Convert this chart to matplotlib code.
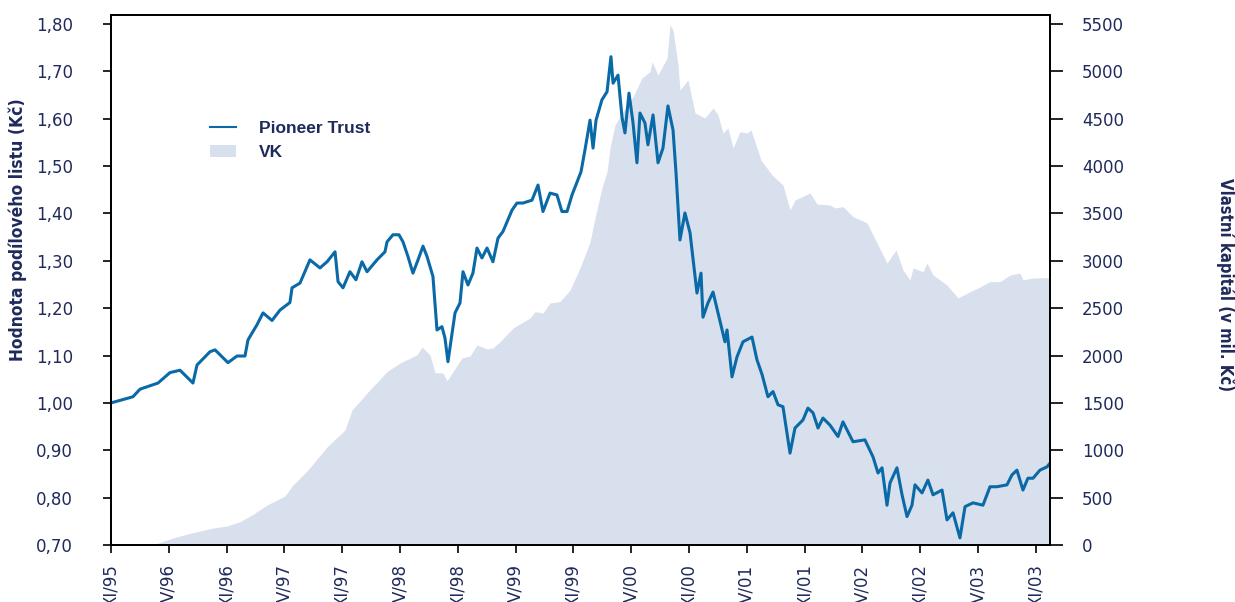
import matplotlib
matplotlib.use("Agg")
import matplotlib.pyplot as plt
from matplotlib.lines import Line2D
from matplotlib.patches import Patch

# Pioneer Trust - hodnota podilového listu (Kč), x = rok (desetinne)
pt_year = [1995.833, 1996.023, 1996.084, 1996.240, 1996.343, 1996.430, 1996.542, 1996.577,
           1996.689, 1996.733, 1996.845, 1996.923, 1996.992, 1997.018, 1997.096, 1997.148,
           1997.226, 1997.295, 1997.381, 1997.399, 1997.468, 1997.554, 1997.641, 1997.702,
           1997.771, 1997.797, 1997.840, 1997.900, 1997.952, 1998.004, 1998.048, 1998.134,
           1998.203, 1998.221, 1998.272, 1998.324, 1998.359, 1998.402, 1998.445, 1998.489,
           1998.532, 1998.567, 1998.618, 1998.653, 1998.696, 1998.722, 1998.748, 1998.809,
           1998.852, 1998.878, 1998.921, 1998.964, 1998.999, 1999.042, 1999.086, 1999.137,
           1999.181, 1999.224, 1999.302, 1999.345, 1999.397, 1999.475, 1999.527, 1999.570,
           1999.631, 1999.691, 1999.734, 1999.778, 1999.821, 1999.899, 1999.933, 1999.977,
           2000.003, 2000.029, 2000.080, 2000.124, 2000.158, 2000.176, 2000.219, 2000.253,
           2000.279, 2000.314, 2000.349, 2000.383, 2000.409, 2000.452, 2000.478, 2000.522,
           2000.565, 2000.608, 2000.651, 2000.695, 2000.721, 2000.755, 2000.798, 2000.842,
           2000.902, 2000.937, 2000.954, 2000.997, 2001.041, 2001.084, 2001.144, 2001.162,
           2001.205, 2001.248, 2001.300, 2001.378, 2001.421, 2001.465, 2001.516, 2001.560,
           2001.603, 2001.646, 2001.707, 2001.750, 2001.819, 2001.862, 2001.906, 2001.949,
           2001.992, 2002.053, 2002.122, 2002.165, 2002.252, 2002.355, 2002.425, 2002.468,
           2002.503, 2002.546, 2002.572, 2002.632, 2002.676, 2002.719, 2002.762, 2002.788,
           2002.849, 2002.900, 2002.944, 2003.022, 2003.065, 2003.117, 2003.177, 2003.221,
           2003.290, 2003.376, 2003.437, 2003.497, 2003.584, 2003.627, 2003.670, 2003.722,
           2003.765, 2003.809, 2003.869, 2003.930, 2003.947]
pt_value = [1.000, 1.013, 1.029, 1.042, 1.064, 1.069, 1.042, 1.080,
            1.108, 1.112, 1.085, 1.099, 1.099, 1.133, 1.165, 1.190,
            1.174, 1.196, 1.212, 1.243, 1.253, 1.302, 1.285, 1.298,
            1.319, 1.256, 1.243, 1.277, 1.260, 1.298, 1.277, 1.302,
            1.319, 1.340, 1.355, 1.355, 1.340, 1.309, 1.274, 1.302,
            1.331, 1.309, 1.267, 1.154, 1.161, 1.137, 1.087, 1.190,
            1.211, 1.277, 1.249, 1.274, 1.327, 1.306, 1.327, 1.298,
            1.348, 1.362, 1.407, 1.422, 1.422, 1.428, 1.460, 1.404,
            1.443, 1.439, 1.404, 1.404, 1.439, 1.488, 1.534, 1.597,
            1.538, 1.597, 1.640, 1.657, 1.731, 1.675, 1.692, 1.604,
            1.570, 1.654, 1.591, 1.507, 1.612, 1.591, 1.545, 1.608,
            1.507, 1.538, 1.627, 1.576, 1.485, 1.344, 1.401, 1.359,
            1.232, 1.274, 1.181, 1.211, 1.234, 1.190, 1.129, 1.154,
            1.055, 1.097, 1.129, 1.139, 1.091, 1.060, 1.013, 1.024,
            0.996, 0.992, 0.894, 0.947, 0.964, 0.989, 0.979, 0.947,
            0.968, 0.953, 0.929, 0.960, 0.918, 0.922, 0.886, 0.852,
            0.863, 0.784, 0.831, 0.863, 0.806, 0.760, 0.784, 0.827,
            0.810, 0.837, 0.806, 0.816, 0.753, 0.768, 0.715, 0.781,
            0.789, 0.784, 0.823, 0.823, 0.827, 0.848, 0.858, 0.816,
            0.841, 0.841, 0.858, 0.865, 0.870]

# VK - vlastni kapital (v mil. Kč)
vk_year = [1996.214, 1996.240, 1996.317, 1996.430, 1996.542, 1996.715, 1996.836, 1996.949,
           1997.053, 1997.182, 1997.338, 1997.407, 1997.537, 1997.702, 1997.857, 1997.918,
           1998.048, 1998.221, 1998.333, 1998.480, 1998.523, 1998.593, 1998.636, 1998.705,
           1998.740, 1998.869, 1998.939, 1998.999, 1999.086, 1999.137, 1999.198, 1999.311,
           1999.458, 1999.501, 1999.570, 1999.631, 1999.717, 1999.804, 1999.890, 1999.951,
           1999.977, 2000.020, 2000.080, 2000.124, 2000.150, 2000.193, 2000.262, 2000.349,
           2000.426, 2000.496, 2000.513, 2000.565, 2000.643, 2000.669, 2000.695, 2000.738,
           2000.755, 2000.824, 2000.885, 2000.971, 2001.041, 2001.084, 2001.127, 2001.170,
           2001.214, 2001.274, 2001.335, 2001.369, 2001.456, 2001.551, 2001.646, 2001.707,
           2001.750, 2001.880, 2001.940, 2002.053, 2002.096, 2002.165, 2002.252, 2002.373,
           2002.468, 2002.546, 2002.624, 2002.684, 2002.745, 2002.771, 2002.857, 2002.892,
           2002.944, 2003.065, 2003.160, 2003.264, 2003.333, 2003.437, 2003.523, 2003.610,
           2003.696, 2003.722, 2003.809, 2003.956]
vk_value = [0, 20, 53, 95, 130, 179, 200, 246,
            317, 422, 517, 633, 792, 1035, 1214, 1425,
            1605, 1830, 1921, 2006, 2090, 2006, 1819, 1816,
            1734, 1974, 1995, 2111, 2069, 2080, 2146, 2291,
            2396, 2463, 2449, 2555, 2569, 2692, 2924, 3114,
            3202, 3452, 3769, 3941, 4191, 4434, 4574, 4733,
            4930, 4997, 5102, 4962, 5141, 5490, 5437, 5067,
            4803, 4909, 4561, 4508, 4613, 4540, 4349, 4402,
            4191, 4363, 4349, 4381, 4064, 3906, 3800, 3537,
            3642, 3716, 3600, 3589, 3558, 3572, 3466, 3400,
            3167, 2977, 3114, 2903, 2798, 2924, 2885, 2977,
            2850, 2745, 2608, 2674, 2713, 2780, 2780, 2850,
            2871, 2798, 2819, 2822]

tick_year = [1995.833 + 0.5 * i for i in range(17)]
tick_labels = ["XI/95", "V/96", "XI/96", "V/97", "XI/97", "V/98", "XI/98", "V/99", "XI/99",
               "V/00", "XI/00", "V/01", "XI/01", "V/02", "XI/02", "V/03", "XI/03"]
left_ticks = [0.7, 0.8, 0.9, 1.0, 1.1, 1.2, 1.3, 1.4, 1.5, 1.6, 1.7, 1.8]
right_ticks = list(range(0, 5501, 500))

navy = "#1f2a5c"
line_col = "#0a6aa8"
fill_col = "#d8dfed"

fig = plt.figure(figsize=(12.35, 6.02), dpi=100)
ax = fig.add_axes([111 / 1235, 1 - 545 / 602, 939 / 1235, 530 / 602])
ax2 = ax.twinx()

ax2.fill_between(vk_year, vk_value, 0, color=fill_col, lw=0)
ax.plot(pt_year, pt_value, color=line_col, lw=2.2)

ax.set_zorder(ax2.get_zorder() + 1)
ax.patch.set_visible(False)

ax.set_xlim(1995.833, 2003.956)
ax.set_ylim(0.70, 1.819)
ax2.set_ylim(0, 5595)

ax.set_xticks(tick_year)
ax.set_xticklabels(tick_labels, rotation=90, va="top", ha="center")
ax.set_yticks(left_ticks)
ax.set_yticklabels([f"{v:.2f}".replace(".", ",") for v in left_ticks])
ax2.set_yticks(right_ticks)
ax2.set_yticklabels([str(v) for v in right_ticks])

for a in (ax, ax2):
    for s in a.spines.values():
        s.set_color("black")
        s.set_linewidth(1.3)
ax.tick_params(axis="both", direction="out", length=6, width=1.2, colors="black",
               labelcolor=navy, labelsize=12, pad=8)
ax.tick_params(axis="y", pad=21.5)
ax2.tick_params(axis="y", direction="out", length=9, width=1.2, colors="black",
                labelcolor=navy, labelsize=12, pad=14)

lab_font = dict(family=["DejaVu Sans"], stretch="condensed", weight="bold",
                color=navy)
fig.text(18 / 1235, 1 - 230 / 602, "Hodnota podílového listu (Kč)", rotation=90,
         ha="center", va="center", size=12.5, **lab_font)
fig.text(1225 / 1235, 1 - 285 / 602, "Vlastní kapitál (v mil. Kč)", rotation=-90,
         ha="center", va="center", size=12, **lab_font)

handles = [Line2D([], [], color=line_col, lw=1.5),
           Patch(facecolor=fill_col, edgecolor="none")]
leg = fig.legend(handles, ["Pioneer Trust", "VK"], loc="upper left",
                 bbox_to_anchor=(210 / 1235, 1 - 121 / 602), frameon=False,
                 borderpad=0, borderaxespad=0, handlelength=1.5, handletextpad=1.3,
                 labelspacing=0.5, prop=dict(family=["Liberation Sans", "DejaVu Sans"],
                                            weight="bold", size=12.5))
for t in leg.get_texts():
    t.set_color(navy)

fig.savefig("out.png", dpi=100)
